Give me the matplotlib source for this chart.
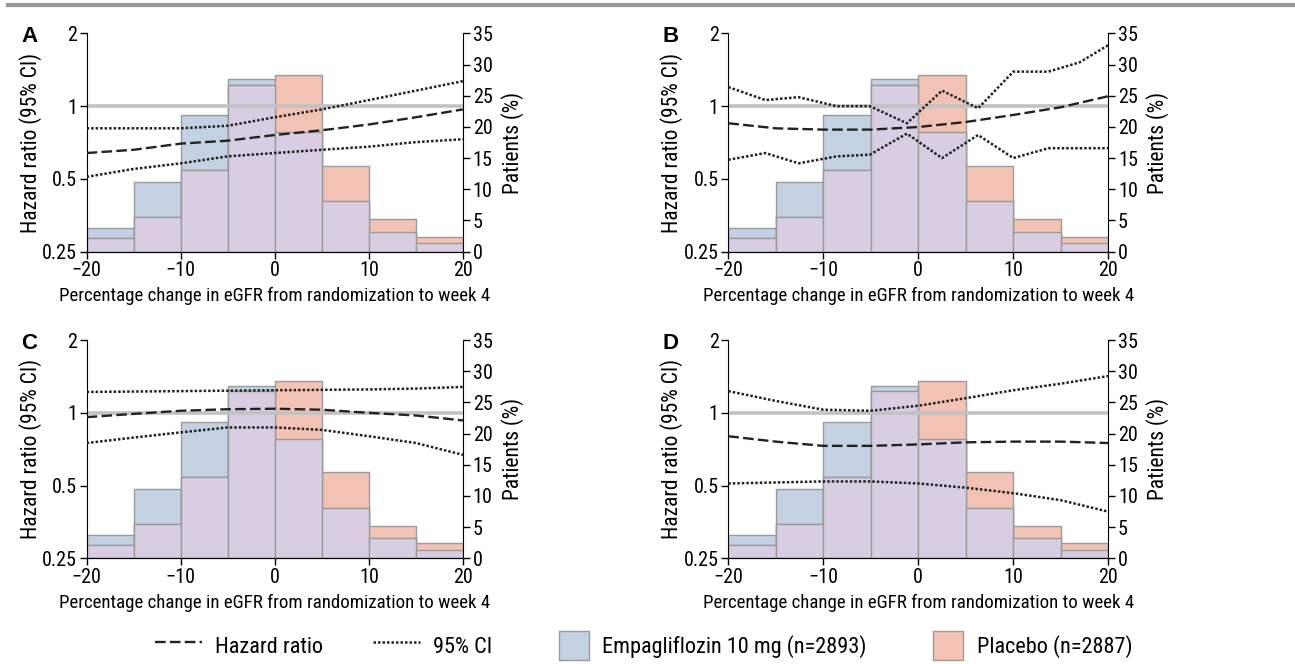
import numpy as np
import matplotlib
matplotlib.use("Agg")
import matplotlib.pyplot as plt
import matplotlib.patches as mpatches
from matplotlib.lines import Line2D
from matplotlib.legend_handler import HandlerPatch

plt.rcParams['font.family'] = ['Roboto Condensed', 'Liberation Sans', 'DejaVu Sans']

# histogram of patients (%) per eGFR change bin, same in every panel
bin_edges = [-20, -15, -10, -5, 0, 5, 10, 15, 20]
empa_pct = [3.8, 11.1, 21.9, 27.7, 19.2, 8.1, 3.2, 1.35]
placebo_pct = [2.2, 5.5, 13.1, 26.8, 28.4, 13.8, 5.2, 2.4]

# hazard ratio curves
x_a = [-20, -15, -10, -5, 0, 5, 10, 15, 20]
hr_a = [0.64, 0.66, 0.70, 0.72, 0.76, 0.795, 0.84, 0.90, 0.97]
hi_a = [0.81, 0.81, 0.81, 0.83, 0.90, 0.97, 1.06, 1.16, 1.27]
lo_a = [0.51, 0.55, 0.58, 0.62, 0.64, 0.66, 0.68, 0.71, 0.73]

x_b = [-20, -15, -10, -5, 0, 5, 10, 15, 20]
hr_b = [0.85, 0.81, 0.80, 0.80, 0.82, 0.86, 0.92, 0.99, 1.10]
x_b_ci = [-20, -16.1, -12.6, -8.6, -5.1, -1.2, 2.5, 6.3, 10, 13.7, 17, 20]
hi_b = [1.20, 1.06, 1.09, 1.00, 1.00, 0.85, 1.16, 0.98, 1.39, 1.39, 1.52, 1.79]
lo_b = [0.60, 0.64, 0.58, 0.62, 0.63, 0.77, 0.61, 0.76, 0.61, 0.67, 0.67, 0.67]

x_c = [-20, -15, -10, -5, 0, 5, 10, 15, 20]
hr_c = [0.96, 0.99, 1.02, 1.035, 1.04, 1.03, 1.00, 0.975, 0.93]
hi_c = [1.22, 1.225, 1.23, 1.235, 1.24, 1.245, 1.25, 1.26, 1.28]
lo_c = [0.75, 0.79, 0.83, 0.87, 0.87, 0.85, 0.80, 0.75, 0.67]

x_d = [-20, -15, -10, -5, 0, 5, 10, 15, 20]
hr_d = [0.80, 0.76, 0.73, 0.73, 0.74, 0.755, 0.76, 0.76, 0.75]
hi_d = [1.23, 1.12, 1.03, 1.02, 1.07, 1.15, 1.24, 1.32, 1.42]
lo_d = [0.51, 0.515, 0.52, 0.52, 0.51, 0.49, 0.465, 0.435, 0.39]

panels = [
    ("A", x_a, hr_a, x_a, hi_a, lo_a),
    ("B", x_b, hr_b, x_b_ci, hi_b, lo_b),
    ("C", x_c, hr_c, x_c, hi_c, lo_c),
    ("D", x_d, hr_d, x_d, hi_d, lo_d),
]

blue = '#c3d1e2'
salmon = '#f2c3b5'
overlap = '#d8cde1'
edge = '#9a9a9a'

fig = plt.figure(figsize=(12.95, 6.64), dpi=100)

# thin gray band at the top
fig.add_artist(Line2D([0.006, 1.0], [0.9925, 0.9925], color='#999999', lw=3,
                      transform=fig.transFigure))

positions = [(0.0669, 0.621), (0.5624, 0.621), (0.0669, 0.1592), (0.5624, 0.1592)]
widths = [0.2906, 0.2934, 0.2906, 0.2934]

lefts = np.array(bin_edges[:-1])
bw = np.diff(bin_edges)
both_min = np.minimum(empa_pct, placebo_pct)

for (letter, xh, hr, xc, hi, lo), (l, b), w in zip(panels, positions, widths):
    ax = fig.add_axes([l, b, w, 0.3286])
    ax2 = ax.twinx()
    # bars on the right axis, drawn below the curves
    ax2.set_zorder(1)
    ax.set_zorder(2)
    ax.patch.set_visible(False)

    ax2.bar(lefts, empa_pct, width=bw, align='edge', color=blue, edgecolor=edge, lw=1)
    ax2.bar(lefts, placebo_pct, width=bw, align='edge', color=salmon, edgecolor=edge, lw=1)
    ax2.bar(lefts, both_min, width=bw, align='edge', color=overlap, edgecolor=edge, lw=1)
    ax2.set_ylim(0, 35)
    ax2.set_yticks(range(0, 36, 5))
    ax2.set_ylabel('Patients (%)', fontsize=15.5)
    ax2.yaxis.set_label_coords(1.10, 0.5)

    ax.axhline(1, color='#c2c2c2', lw=2.6, zorder=1)
    ax.plot(xc, hi, color='#222222', lw=1.8, ls=(0, (1, 0.8)), zorder=3)
    ax.plot(xc, lo, color='#222222', lw=1.8, ls=(0, (1, 0.8)), zorder=3)
    ax.plot(xh, hr, color='#222222', lw=1.7, ls=(0, (4.5, 1.8)), zorder=4)

    ax.set_yscale('log')
    ax.set_ylim(0.25, 2)
    ax.set_yticks([0.25, 0.5, 1, 2])
    ax.set_yticklabels(['0.25', '0.5', '1', '2'])
    ax.yaxis.set_minor_locator(matplotlib.ticker.NullLocator())
    ax.set_xlim(-20, 20)
    ax.set_xticks([-20, -10, 0, 10, 20])
    ax.set_xticklabels(['\u221220', '\u221210', '0', '10', '20'])
    ax.set_ylabel('Hazard ratio (95% CI)', fontsize=15.5)
    ax.yaxis.set_label_coords(-0.118, 0.5)
    ax.set_xlabel('Percentage change in eGFR from randomization to week 4',
                  fontsize=13.6, labelpad=5)

    for a in (ax, ax2):
        a.spines['top'].set_visible(False)
        a.tick_params(labelsize=14.5, length=5, width=1, pad=2)
    ax.spines['right'].set_visible(False)
    ax2.spines['left'].set_visible(False)

    ax.text(-0.152, 0.985, letter, transform=ax.transAxes, fontsize=16,
            fontweight='bold', ha='center', va='center', family='Liberation Sans')


def narrow_patch(legend, orig_handle, xdescent, ydescent, width, height, fontsize):
    pw = width * 0.65
    return mpatches.Rectangle((width - pw - xdescent, -ydescent), pw, height)


handles = [
    Line2D([], [], color='#222222', lw=1.7, ls=(0, (4.5, 1.8))),
    Line2D([], [], color='#222222', lw=1.8, ls=(0, (1, 0.8))),
    mpatches.Patch(facecolor=blue, edgecolor=edge, lw=1),
    mpatches.Patch(facecolor=salmon, edgecolor=edge, lw=1),
]
labels = ['Hazard ratio', '95% CI', 'Empagliflozin 10 mg (n=2893)', 'Placebo (n=2887)']
fig.legend(handles, labels, loc='center', bbox_to_anchor=(0.497, 0.028), ncol=4,
           frameon=False, fontsize=16, handlelength=2.1, handleheight=1.65,
           handletextpad=0.6, columnspacing=2.25,
           handler_map={mpatches.Patch: HandlerPatch(patch_func=narrow_patch)})

fig.savefig('out.png', dpi=100)
